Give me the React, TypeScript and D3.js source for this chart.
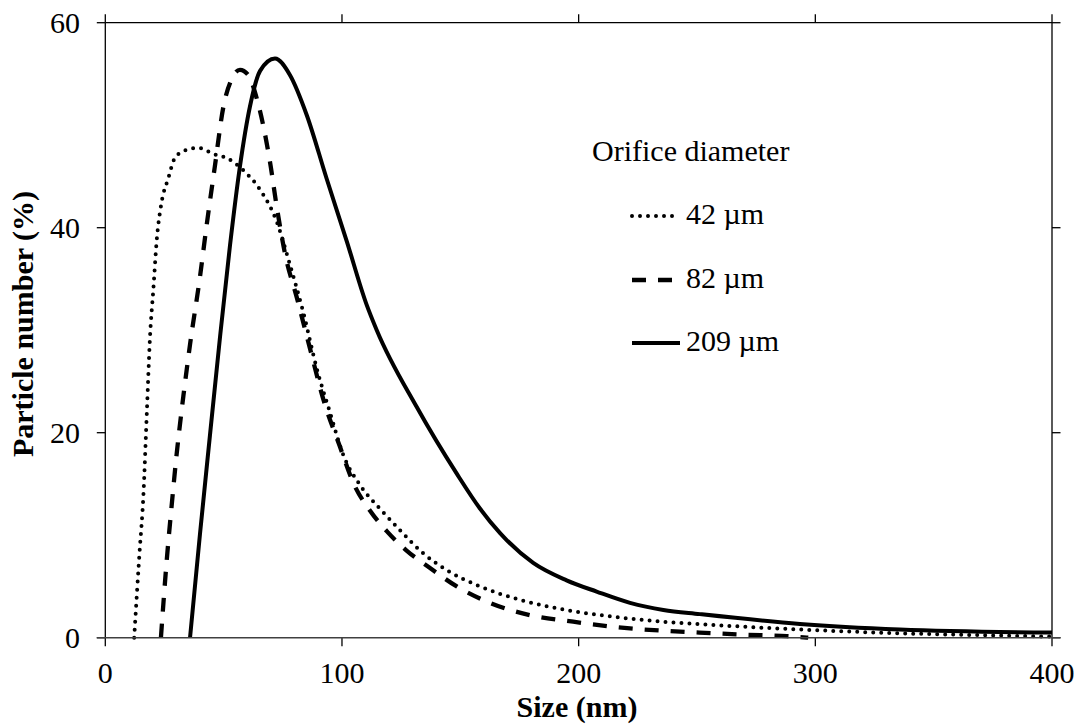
import React from "react";
import * as d3 from "d3";

const xTicks = [0, 100, 200, 300, 400];
const yTicks = [0, 20, 40, 60];
const legendTitle = "Orifice diameter";
const seriesNames = ["42 µm", "82 µm", "209 µm"];

const x42 = [12.2, 14.4, 16.1, 17.5, 18.9, 20.3, 21.7, 23.8, 26.6, 29.4, 34.4, 39.3, 45.6, 51.3, 58.3, 65.4, 72.4, 78, 83.7, 89.3, 94.9, 100.6, 107.6, 116, 124.5, 133, 144.2, 158.3, 175.2, 194.9, 214.6, 235.8, 257, 293.5, 335.7, 370, 400];
const y42 = [0, 8.1, 13.9, 21.7, 29.4, 34, 38.7, 42.5, 44.8, 46.8, 47.6, 47.8, 47.2, 46.8, 45.6, 43.7, 40.6, 36.4, 31.7, 26.3, 22, 17.8, 14.9, 12.6, 10.5, 8.5, 6.6, 5.0, 3.7, 2.7, 2.05, 1.56, 1.24, 0.8, 0.43, 0.25, 0.1];

const x82 = [23.5, 25.9, 28, 30.1, 33, 35.8, 40, 42.8, 46.3, 49.9, 53.4, 56.9, 60.4, 64, 66.8, 69.6, 72.4, 75.9, 80.9, 86.5, 92.2, 99.2, 104.8, 111.8, 118.9, 127.3, 137.2, 148.5, 162.5, 179.4, 197.7, 221.7, 242.8, 251, 270, 288, 297];
const y82 = [0, 7.4, 12.8, 17.8, 23.6, 28.6, 35.2, 40.2, 46, 51.8, 54.5, 55.4, 54.9, 52.6, 49.9, 46.4, 42.1, 37.5, 33.2, 28.2, 23.2, 18.6, 15.1, 12.4, 10.4, 8.5, 6.8, 5.0, 3.4, 2.2, 1.56, 0.9, 0.6, 0.5, 0.3, 0.15, 0];

const x209 = [35.8, 40, 44.2, 48.5, 52.7, 56.9, 61.1, 65.4, 71.7, 78, 85.1, 93.5, 102, 110.4, 114.7, 131.6, 148.5, 158.3, 166.8, 180.8, 194.9, 207.6, 221.7, 235.8, 251.2, 293.5, 335.7, 400];
const y209 = [0, 10.1, 19.7, 29.4, 38.3, 46.0, 51.8, 55.3, 56.5, 54.9, 51.0, 44.8, 38.7, 32.5, 30.0, 22.5, 16.0, 12.6, 10.2, 7.3, 5.6, 4.5, 3.4, 2.7, 2.3, 1.34, 0.8, 0.5];

const FONT = "'Liberation Serif', 'Times New Roman', serif";

export default function App() {
  const W = 1080, H = 727;
  const L = 105.3, R = 1052, T = 22.7, B = 637.7;
  const x = d3.scaleLinear().domain([0, 400]).range([L, R]);
  const y = d3.scaleLinear().domain([0, 60]).range([B, T]);
  const line = d3.line<[number, number]>()
    .x(d => x(d[0]))
    .y(d => y(d[1]))
    .curve(d3.curveMonotoneX);

  const series = [
    { xs: x42, ys: y42, dash: "0 8", width: 4, cap: "round" as const },
    { xs: x82, ys: y82, dash: "14 12", width: 4.3, cap: "butt" as const },
    { xs: x209, ys: y209, dash: undefined, width: 4, cap: "butt" as const },
  ];

  const tickLen = 8.5;
  const legendX0 = 632, legendX1 = 680, legendTextX = 686;
  const legendBase = [224, 288, 351];

  return (
    <svg width={W} height={H} style={{ position: "absolute", left: 0, top: 0, background: "#fff" }} fontFamily={FONT}>
      <rect x={0} y={0} width={W} height={H} fill="#fff" />
      <line x1={L} x2={R} y1={T} y2={T} stroke="#000" strokeWidth={1.3} />
      <line x1={L} x2={L} y1={T} y2={B} stroke="#000" strokeWidth={1.3} />
      <line x1={R} x2={R} y1={T} y2={B} stroke="#000" strokeWidth={1.3} />
      {xTicks.map(t => (
        <g key={"xt" + t}>
          <line x1={x(t)} x2={x(t)} y1={B} y2={B + tickLen} stroke="#000" strokeWidth={1.3} />
          <line x1={x(t)} x2={x(t)} y1={T} y2={T - tickLen} stroke="#000" strokeWidth={1.3} />
          <text x={x(t)} y={683} fontSize={30} textAnchor="middle" fill="#000">{t}</text>
        </g>
      ))}
      {yTicks.map(t => (
        <g key={"yt" + t}>
          <line x1={L - tickLen} x2={L} y1={y(t)} y2={y(t)} stroke="#000" strokeWidth={1.3} />
          <line x1={R} x2={R + tickLen} y1={y(t)} y2={y(t)} stroke="#000" strokeWidth={1.3} />
          <text x={80} y={y(t) + 10} fontSize={30} textAnchor="end" fill="#000">{t}</text>
        </g>
      ))}
      {series.map((s, i) => (
        <path key={"s" + i}
          d={line(s.xs.map((v, j) => [v, s.ys[j]] as [number, number])) || ""}
          fill="none" stroke="#000" strokeWidth={s.width}
          strokeDasharray={s.dash} strokeLinecap={s.cap} strokeLinejoin="round" />
      ))}
      <line x1={L - tickLen} x2={R + tickLen} y1={B} y2={B} stroke="#404040" strokeWidth={1.5} />
      <text x={592} y={161} fontSize={30} fill="#000">{legendTitle}</text>
      {series.map((s, i) => (
        <g key={"lg" + i}>
          <line x1={legendX0} x2={legendX1} y1={legendBase[i] - 8} y2={legendBase[i] - 8}
            stroke="#000" strokeWidth={s.width} strokeDasharray={s.dash} strokeLinecap={s.cap} />
          <text x={legendTextX} y={legendBase[i]} fontSize={30} fill="#000">{seriesNames[i]}</text>
        </g>
      ))}
      <text x={577} y={717} fontSize={30} fontWeight="bold" textAnchor="middle" fill="#000">Size (nm)</text>
      <text transform={`translate(33, 324) rotate(-90)`} fontSize={30} fontWeight="bold" textAnchor="middle" fill="#000">Particle number (%)</text>
    </svg>
  );
}
